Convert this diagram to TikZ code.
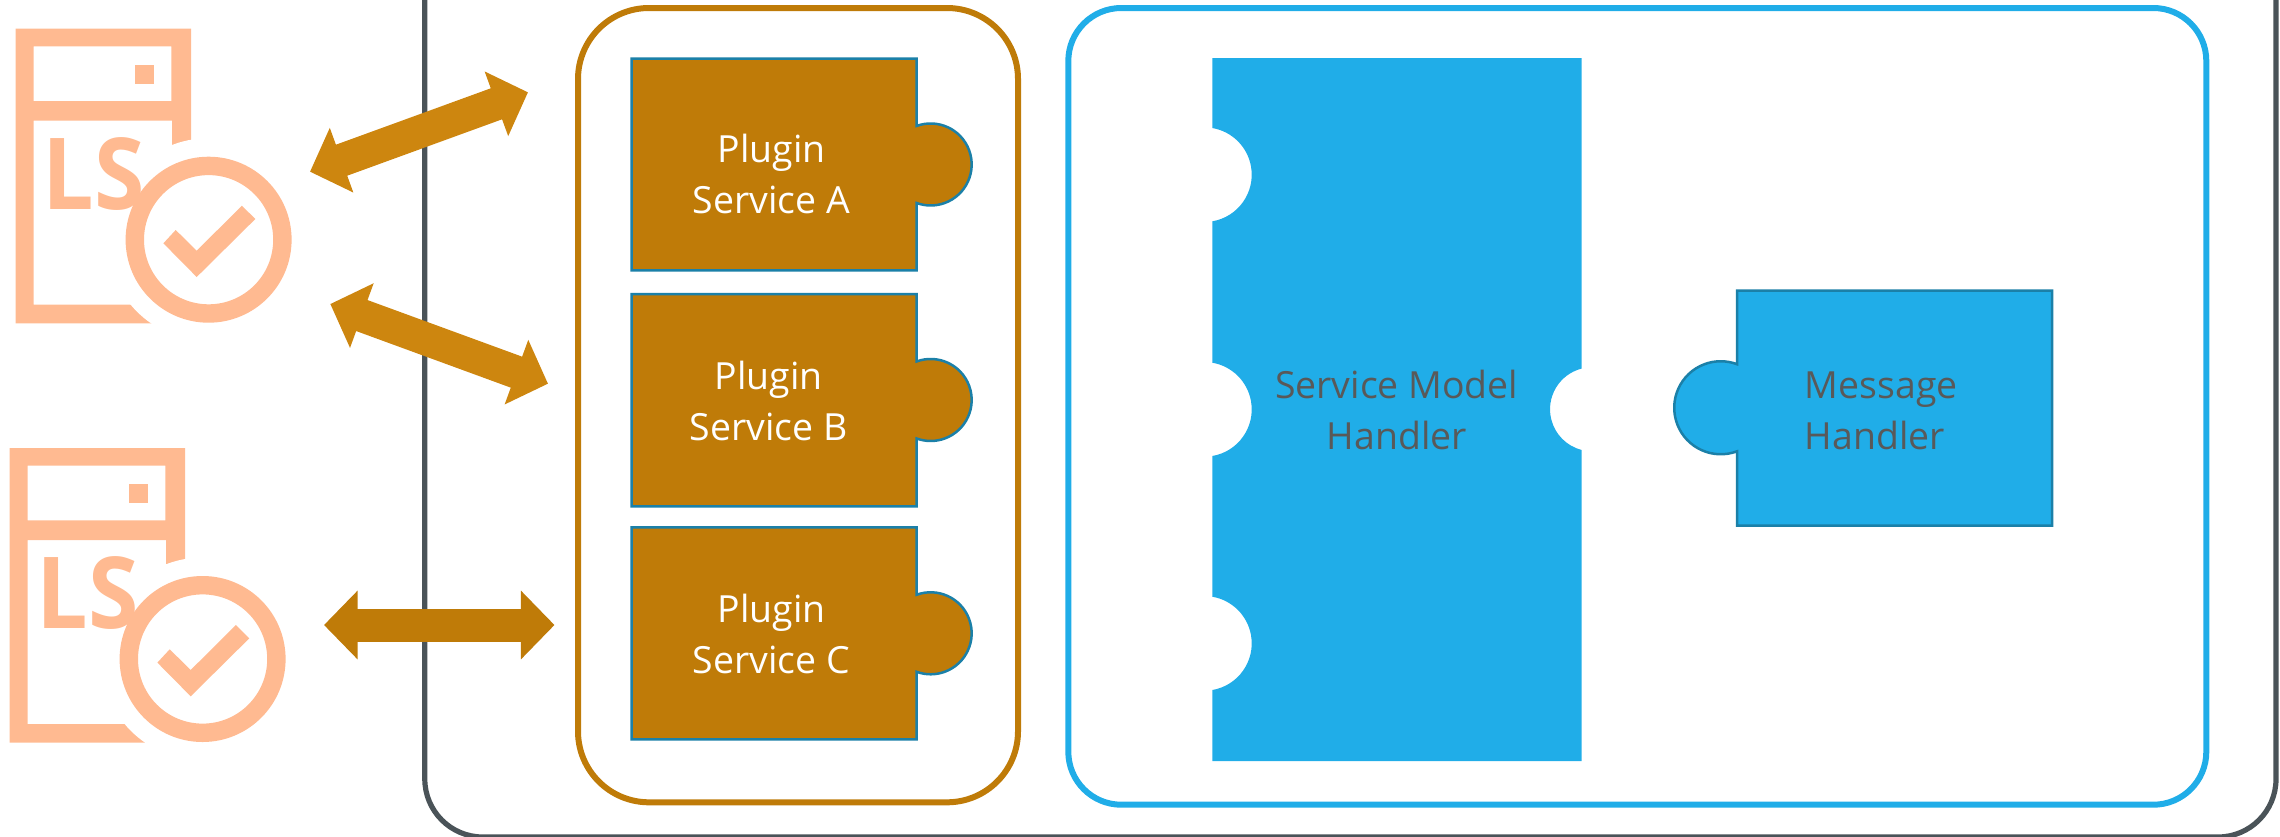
\documentclass[tikz,border=0pt]{standalone}
\usepackage{fontspec}
\setmainfont{Open Sans}
\usetikzlibrary{arrows.meta}
\definecolor{plugbrown}{HTML}{BF7B08}
\definecolor{arrowbrown}{HTML}{CD860F}
\definecolor{handlerblue}{HTML}{20ADE8}
\definecolor{edgeblue}{HTML}{1B80A8}
\definecolor{peach}{HTML}{FFBA91}
\definecolor{slate}{HTML}{4A5358}
\definecolor{txtgray}{HTML}{595959}

\begin{document}
\begin{tikzpicture}[x=.5pt, y=-.5pt]
\tikzstyle{frm}=[line width = 3pt, rounded corners]
\tikzstyle{pce}=[line width = 1.25pt, draw = edgeblue]
\tikzstyle{lbl}=[inner sep = 0pt, align = center, font = \fontsize{18.7}{25.75}\selectfont]
\tikzstyle{dbl}=[line width = 16.5pt, {Triangle[length=16.8pt, width=33.4pt]}-{Triangle[length=16.8pt, width=33.4pt]}]
\clip (0,0) rectangle (2280,836);
%frames
\draw[slate, line width = 2.6pt, rounded corners = 29pt] (424.8,-10) -- (424.8,837) -- (2276,837) -- (2276,-10);
\draw[frm, plugbrown, rounded corners = 35.5pt] (578,8) rectangle (1018,802.3);
\draw[frm, handlerblue, rounded corners = 26.5pt] (1068.3,8) rectangle (2206.3,804.7);
%server icons
\foreach \n/\ox/\oy in {1/0/0, 2/-6/419.3}{
\begin{scope}[shift={(\ox,\oy)}]
\fill[peach, even odd rule] (15.7,28.7) rectangle (191,323.3) (33.7,46.3) rectangle (171.4,101) (33.7,120.7) rectangle (172,304.7);
\fill[peach] (135,65) rectangle (154,84);
\fill[white] (208.6,239.7) circle (50.75pt);
\node[inner sep = 0pt, anchor = base west, text = peach, xscale = .92, transform shape, font = \fontsize{49.7}{50}\selectfont\bfseries] (ls\n) at (42.6,209) {LS};
\draw[peach, line width = 9.2pt] (208.6,239.7) circle (36.9pt);
\fill[peach] (163.4,243.3) -- (175.7,230) -- (196.7,250.7) -- (241.9,205.7) -- (255.3,219) -- (196.7,277) -- cycle;
\end{scope}
}
%arrows
\coordinate (srvA) at (310,171.7);
\coordinate (hubA) at (528,92.3);
\coordinate (srvB) at (330.3,304);
\coordinate (hubB) at (548,383.7);
\coordinate (srvC) at (324,625);
\coordinate (hubC) at (554.5,625);
\foreach \i/\j/\k in {srvA/hubA/arrowbrown, srvB/hubB/arrowbrown, srvC/hubC/plugbrown}{\draw[dbl, \k] (\i) -- (\j);}
%plugin pieces
\foreach \n/\t/\b/\k/\tx/\ty in {A/58.7/270.3/164.5/771.5/174, B/294/506.4/400/768.5/401, C/527.3/739.4/633.3/771.5/634}{
\draw[pce, fill = plugbrown] (631.5,\t) -- (916.5,\t) -- (916.5,{\k-38.5}) arc[start angle = 110.2, end angle = -110.2, radius = 20.5pt] -- (916.5,\b) -- (631.5,\b) -- cycle;
\node[lbl, text = white] (plugin\n) at (\tx,\ty) {Plugin\\Service \n};
}
%handlers
\fill[handlerblue] (1212.3,58) -- (1581.5,58) -- (1581.5,368.6) arc[start angle = 104.5, end angle = 255.5, radius = 21pt] -- (1581.5,761) -- (1212.3,761) -- (1212.3,690) arc[start angle = -80.4, end angle = 80.4, radius = 23.65pt] -- (1212.3,456) arc[start angle = -80.4, end angle = 80.4, radius = 23.65pt] -- (1212.3,221.3) arc[start angle = -80.4, end angle = 80.4, radius = 23.65pt] -- cycle;
\node[lbl, text = txtgray] (model) at (1396.7,410) {Service Model\\Handler};
\draw[pce, fill = handlerblue] (1737,290.5) -- (2052,290.5) -- (2052,525.7) -- (1737,525.7) -- (1737,451.3) arc[start angle = 290.5, end angle = 69.5, radius = 23.25pt] -- cycle;
\node[lbl, text = txtgray, align = left, anchor = west] (message) at (1804.5,411) {Message\\Handler};
\end{tikzpicture}
\end{document}
